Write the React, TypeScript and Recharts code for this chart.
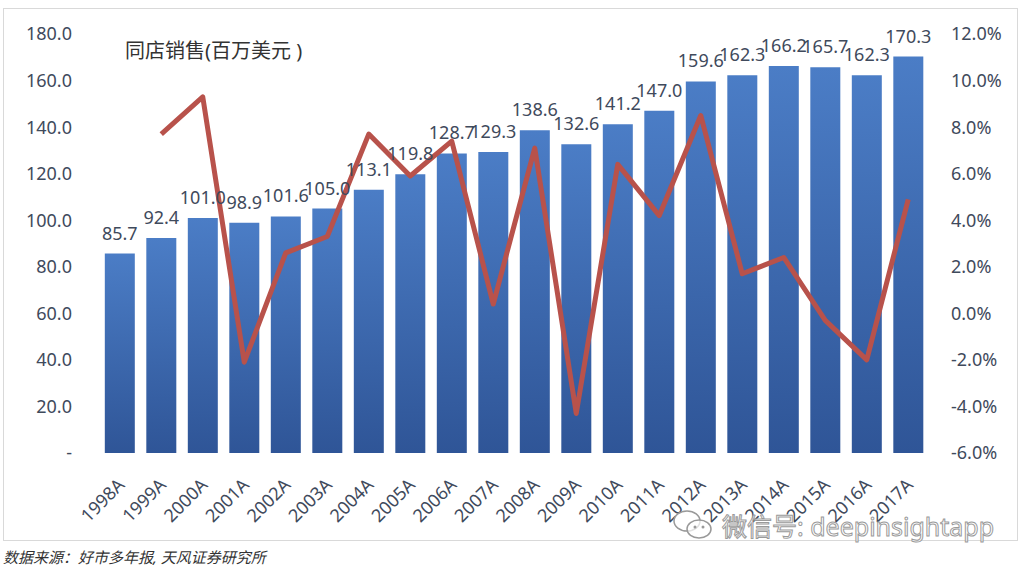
import { ComposedChart, Bar, Line, XAxis, YAxis, LabelList } from "recharts";

const years = [
  "1998A", "1999A", "2000A", "2001A", "2002A", "2003A", "2004A", "2005A", "2006A", "2007A",
  "2008A", "2009A", "2010A", "2011A", "2012A", "2013A", "2014A", "2015A", "2016A", "2017A",
];
const sales = [
  85.7, 92.4, 101.0, 98.9, 101.6, 105.0, 113.1, 119.8, 128.7, 129.3,
  138.6, 132.6, 141.2, 147.0, 159.6, 162.3, 166.2, 165.7, 162.3, 170.3,
];
// yoy growth in %, no value for 1998
const growth = [
  null, 7.7, 9.3, -2.1, 2.6, 3.3, 7.7, 5.9, 7.4, 0.4,
  7.1, -4.3, 6.4, 4.2, 8.5, 1.7, 2.4, -0.3, -2.0, 4.9,
];
const leftTicks = [0, 20, 40, 60, 80, 100, 120, 140, 160, 180];
const rightTicks = [-6, -4, -2, 0, 2, 4, 6, 8, 10, 12];

const data = years.map((y, i) => ({ year: y, sales: sales[i], growth: growth[i] }));

const FONT = "'Noto Sans', 'Noto Sans CJK SC', sans-serif";
const TEXT = "#3f4a5c";

const XTick = ({ x, y, payload }: any) => (
  <g transform={`translate(${x + 6},${y + 25})`}>
    <text
      x={0}
      y={0}
      textAnchor="end"
      transform="rotate(-45)"
      fill={TEXT}
      fontSize={18}
      fontFamily={FONT}
    >
      {payload.value}
    </text>
  </g>
);

export default function App() {
  return (
    <div style={{ position: "fixed", left: 0, top: 0, width: 1028, height: 572, background: "#fff", fontFamily: FONT }}>
      <div
        style={{
          position: "absolute",
          left: 3,
          top: 8,
          width: 1015,
          height: 533,
          border: "1px solid #d9d9d9",
          boxSizing: "border-box",
        }}
      />
      <ComposedChart
        width={1028}
        height={572}
        data={data}
        margin={{ top: 34, right: 0, left: 0, bottom: 0 }}
        barCategoryGap="14%"
        style={{ position: "absolute", left: 0, top: 0 }}
      >
        <defs>
          <linearGradient id="barFill" x1="0" y1="0" x2="0" y2="1">
            <stop offset="0%" stopColor="#4b7dc6" />
            <stop offset="100%" stopColor="#2f5597" />
          </linearGradient>
        </defs>
        <XAxis
          dataKey="year"
          axisLine={false}
          tickLine={false}
          interval={0}
          height={119}
          tick={<XTick />}
        />
        <YAxis
          yAxisId="left"
          domain={[0, 180]}
          ticks={leftTicks}
          width={99}
          axisLine={false}
          tickLine={false}
          tickSize={0}
          tickMargin={27}
          tick={{ fill: TEXT, fontSize: 18, fontFamily: FONT }}
          tickFormatter={(v: number) => (v === 0 ? "-" : v.toFixed(1))}
        />
        <YAxis
          yAxisId="right"
          orientation="right"
          domain={[-6, 12]}
          ticks={rightTicks}
          width={99}
          axisLine={false}
          tickLine={false}
          tickSize={0}
          tickMargin={22}
          tick={{ fill: TEXT, fontSize: 18, fontFamily: FONT, textAnchor: "start" }}
          tickFormatter={(v: number) => v.toFixed(1) + "%"}
        />
        <Bar yAxisId="left" dataKey="sales" fill="url(#barFill)" isAnimationActive={false}>
          <LabelList
            dataKey="sales"
            position="top"
            offset={14}
            fill={TEXT}
            fontSize={18}
            fontFamily={FONT}
            formatter={(v: any) => Number(v).toFixed(1)}
          />
        </Bar>
        <Line
          yAxisId="right"
          dataKey="growth"
          stroke="#b8524b"
          strokeWidth={5}
          dot={false}
          activeDot={false}
          strokeLinejoin="round"
          isAnimationActive={false}
        />
        <text x={125} y={58} fontSize={20} fill="#333" fontFamily={FONT}>
          同店销售(百万美元 )
        </text>
      </ComposedChart>
      <div
        style={{
          position: "absolute",
          left: 3,
          top: 546,
          fontSize: 15,
          fontStyle: "italic",
          color: "#333",
          fontFamily: FONT,
          whiteSpace: "nowrap",
        }}
      >
        数据来源：好市多年报, 天风证券研究所
      </div>
      <div
        style={{
          position: "absolute",
          left: 672,
          top: 507,
          display: "flex",
          alignItems: "center",
          gap: 8,
          whiteSpace: "nowrap",
        }}
      >
        <svg width={42} height={34} viewBox="0 0 42 34">
          <ellipse cx={15} cy={13} rx={13} ry={10} fill="rgba(255,255,255,0.7)" stroke="#999" strokeWidth={1.5} />
          <ellipse cx={27} cy={21} rx={12} ry={9} fill="rgba(255,255,255,0.7)" stroke="#999" strokeWidth={1.5} />
          <circle cx={23} cy={19} r={1.5} fill="#999" />
          <circle cx={31} cy={19} r={1.5} fill="#999" />
        </svg>
        <span
          style={{
            fontSize: 25,
            color: "rgba(255,255,255,0.75)",
            WebkitTextStroke: "1px #9a9a9a",
            fontFamily: FONT,
          }}
        >
          微信号: deepinsightapp
        </span>
      </div>
    </div>
  );
}
